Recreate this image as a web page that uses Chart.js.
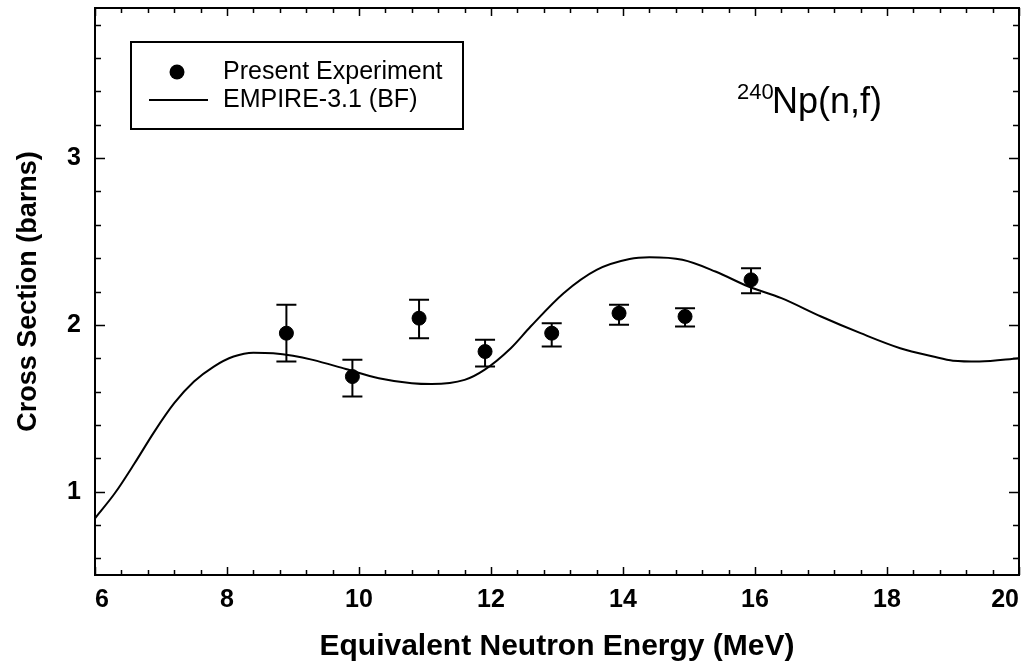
<!DOCTYPE html>
<html>
<head>
<meta charset="utf-8">
<script src="https://cdn.jsdelivr.net/npm/chart.js@4"></script>
<style>
  html, body { margin: 0; padding: 0; background: #fff; }
  #wrap { width: 1036px; height: 669px; }
</style>
</head>
<body>
<div id="wrap"><canvas id="chart" width="1036" height="669"></canvas></div>
<script>
// measured points (Present Experiment)
const expEnergy = [8.9, 9.9, 10.91, 11.91, 12.92, 13.94, 14.94, 15.94];
const expXS     = [1.95, 1.69, 2.04, 1.84, 1.95, 2.07, 2.05, 2.27];
const expLow    = [1.78, 1.57, 1.92, 1.75, 1.87, 2.00, 1.99, 2.19];
const expHigh   = [2.12, 1.79, 2.15, 1.91, 2.01, 2.12, 2.10, 2.34];

// EMPIRE-3.1 (BF) curve
const calcEnergy = [6.0, 6.3, 6.6, 6.9, 7.2, 7.5, 7.8, 8.1, 8.4, 8.7, 9.0, 9.3, 9.8, 10.3, 10.8, 11.1,
                    11.6, 11.9, 12.3, 12.6, 13.1, 13.6, 14.1, 14.4, 14.9, 15.4, 15.9, 16.4, 17.0, 17.6,
                    18.2, 18.7, 19.0, 19.4, 20.0];
const calcXS     = [0.84, 0.99, 1.17, 1.36, 1.53, 1.66, 1.75, 1.81, 1.833, 1.83, 1.815, 1.79, 1.735, 1.68, 1.65, 1.645,
                    1.67, 1.73, 1.86, 1.99, 2.19, 2.33, 2.395, 2.405, 2.39, 2.32, 2.23, 2.16, 2.05, 1.95,
                    1.86, 1.81, 1.785, 1.78, 1.80];

// axis ticks
const xMajor = [6, 8, 10, 12, 14, 16, 18, 20];
const yMajor = [1, 2, 3];
const xRange = [6, 20];
const yRange = [0.5, 3.9];

const FONT = "'Liberation Sans', Arial, Helvetica, sans-serif";

// frame + inward ticks on all four sides
const framePlugin = {
  id: 'frame',
  afterDraw(chart) {
    const {ctx, chartArea: a, scales: {x, y}} = chart;
    ctx.save();
    ctx.strokeStyle = '#000';
    ctx.lineWidth = 1.5;
    ctx.beginPath();
    for (let v = xRange[0]; v <= xRange[1] + 1e-6; v += 0.4) {
      const isMajor = xMajor.some(m => Math.abs(m - v) < 1e-6);
      const len = isMajor ? 8 : 5;
      const px = Math.round(x.getPixelForValue(v)) + 0.5;
      ctx.moveTo(px, a.bottom); ctx.lineTo(px, a.bottom - len);
      ctx.moveTo(px, a.top); ctx.lineTo(px, a.top + len);
    }
    for (let v = 0.6; v <= yRange[1] + 1e-6; v += 0.2) {
      const isMajor = yMajor.some(m => Math.abs(m - v) < 1e-6);
      const len = isMajor ? 10 : 6;
      const py = Math.round(y.getPixelForValue(v)) + 0.5;
      ctx.moveTo(a.left, py); ctx.lineTo(a.left + len, py);
      ctx.moveTo(a.right, py); ctx.lineTo(a.right - len, py);
    }
    ctx.stroke();
    ctx.lineWidth = 2;
    ctx.strokeRect(a.left, a.top, a.right - a.left, a.bottom - a.top);
    ctx.restore();
  }
};

// vertical error bars with caps
const errorBarPlugin = {
  id: 'errorBars',
  beforeDatasetsDraw(chart) {
    const {ctx, scales: {x, y}} = chart;
    ctx.save();
    ctx.strokeStyle = '#000';
    ctx.lineWidth = 2;
    ctx.beginPath();
    expEnergy.forEach((e, i) => {
      const px = x.getPixelForValue(e);
      const pLo = y.getPixelForValue(expLow[i]);
      const pHi = y.getPixelForValue(expHigh[i]);
      ctx.moveTo(px, pLo); ctx.lineTo(px, pHi);
      ctx.moveTo(px - 10, pLo); ctx.lineTo(px + 10, pLo);
      ctx.moveTo(px - 10, pHi); ctx.lineTo(px + 10, pHi);
    });
    ctx.stroke();
    ctx.restore();
  }
};

// boxed legend and reaction label
const labelPlugin = {
  id: 'labels',
  afterDraw(chart) {
    const {ctx, chartArea: a} = chart;
    ctx.save();
    const bx = a.left + 36, by = a.top + 34, bw = 332, bh = 87;
    ctx.fillStyle = '#fff';
    ctx.fillRect(bx, by, bw, bh);
    ctx.strokeStyle = '#000';
    ctx.lineWidth = 2;
    ctx.strokeRect(bx, by, bw, bh);

    ctx.fillStyle = '#000';
    ctx.beginPath();
    ctx.arc(bx + 46, by + 30, 7.5, 0, Math.PI * 2);
    ctx.fill();
    ctx.beginPath();
    ctx.moveTo(bx + 18, by + 58); ctx.lineTo(bx + 77, by + 58);
    ctx.stroke();

    ctx.font = '25px ' + FONT;
    ctx.textBaseline = 'middle';
    ctx.textAlign = 'left';
    ctx.fillText('Present Experiment', bx + 92, by + 30);
    ctx.fillText('EMPIRE-3.1 (BF)', bx + 92, by + 58);

    ctx.textBaseline = 'alphabetic';
    ctx.font = '22px ' + FONT;
    ctx.fillText('240', 737, 99);
    ctx.font = '36px ' + FONT;
    ctx.fillText('Np(n,f)', 772, 113);
    ctx.restore();
  }
};

const noPad = axis => { axis.paddingTop = 0; axis.paddingBottom = 0; axis.paddingLeft = 0; axis.paddingRight = 0; };

new Chart(document.getElementById('chart'), {
  type: 'scatter',
  data: {
    datasets: [
      {
        label: 'Present Experiment',
        data: expEnergy.map((e, i) => ({x: e, y: expXS[i]})),
        pointRadius: 7,
        pointBackgroundColor: '#000',
        pointBorderColor: '#000',
        showLine: false
      },
      {
        label: 'EMPIRE-3.1 (BF)',
        type: 'line',
        data: calcEnergy.map((e, i) => ({x: e, y: calcXS[i]})),
        borderColor: '#000',
        borderWidth: 2,
        pointRadius: 0,
        cubicInterpolationMode: 'monotone',
        fill: false
      }
    ]
  },
  options: {
    responsive: false,
    animation: false,
    devicePixelRatio: 1,
    layout: { padding: { top: 8, right: 17, bottom: 0, left: 0 } },
    plugins: { legend: { display: false }, tooltip: { enabled: false } },
    scales: {
      x: {
        type: 'linear',
        min: xRange[0], max: xRange[1],
        grid: { display: false, drawTicks: false },
        border: { display: false },
        afterBuildTicks: axis => { axis.ticks = xMajor.map(v => ({value: v})); },
        afterFit: axis => { axis.height = 94; noPad(axis); },
        ticks: { color: '#000', padding: 10, maxRotation: 0, align: 'inner', font: { family: FONT, size: 25, weight: 'bold' } },
        title: {
          display: true, text: 'Equivalent Neutron Energy (MeV)', color: '#000',
          padding: { top: 0, bottom: 4 },
          font: { family: FONT, size: 30, weight: 'bold' }
        }
      },
      y: {
        type: 'linear',
        min: yRange[0], max: yRange[1],
        grid: { display: false, drawTicks: false },
        border: { display: false },
        afterBuildTicks: axis => { axis.ticks = yMajor.map(v => ({value: v})); },
        afterFit: axis => { axis.width = 95; noPad(axis); },
        ticks: { color: '#000', padding: 14, font: { family: FONT, size: 25, weight: 'bold' } },
        title: {
          display: true, text: 'Cross Section (barns)', color: '#000',
          padding: { top: 12, bottom: 0 },
          font: { family: FONT, size: 27, weight: 'bold' }
        }
      }
    }
  },
  plugins: [errorBarPlugin, framePlugin, labelPlugin]
});
</script>
</body>
</html>
